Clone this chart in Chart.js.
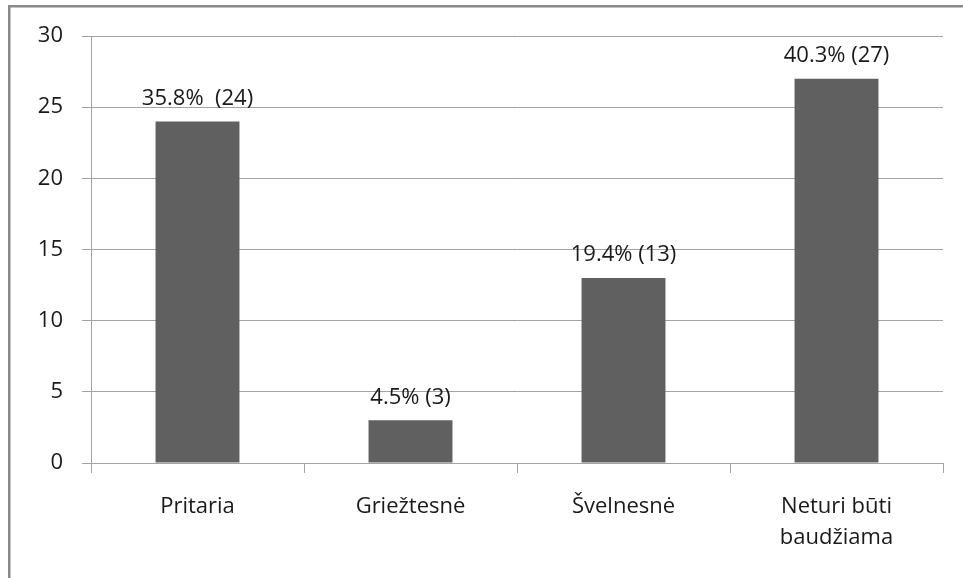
<!DOCTYPE html>
<html>
<head>
<meta charset="utf-8">
<script src="https://cdn.jsdelivr.net/npm/chart.js@4/dist/chart.umd.min.js"></script>
<style>
  html, body { margin: 0; padding: 0; background: #fff; }
  #wrap { width: 963px; height: 578px; position: relative; }
</style>
</head>
<body>
<div id="wrap"><canvas id="c" width="963" height="578"></canvas></div>
<script>
// Answers and how many respondents chose each one
const categories = ['Pritaria', 'Griežtesnė', 'Švelnesnė', ['Neturi būti', 'baudžiama']];
const counts = [24, 3, 13, 27];
const shares = ['35.8', '4.5', '19.4', '40.3'];
const labelGaps = ['  ', ' ', ' ', ' '];
const yTicks = [0, 5, 10, 15, 20, 25, 30];

const FONT = "'Open Sans', 'Noto Sans', sans-serif";
const GRID = '#a3a3a3';
const TEXT = '#1a1a1a';

// Frame along the left and top edges
const framePlugin = {
  id: 'frame',
  beforeDraw(chart) {
    const ctx = chart.ctx;
    ctx.save();
    ctx.fillStyle = '#fff';
    ctx.fillRect(0, 0, chart.width, chart.height);
    ctx.fillStyle = '#8a8a8a';
    ctx.fillRect(8, 5, chart.width - 8, 2.5);
    ctx.fillRect(8, 5, 2.5, chart.height - 5);
    ctx.restore();
  }
};

// Percentage and count written above each bar
const valueLabelPlugin = {
  id: 'valueLabels',
  afterDatasetsDraw(chart) {
    const ctx = chart.ctx;
    const meta = chart.getDatasetMeta(0);
    ctx.save();
    ctx.font = '22px ' + FONT;
    ctx.fillStyle = TEXT;
    ctx.textAlign = 'center';
    ctx.textBaseline = 'middle';
    meta.data.forEach((bar, i) => {
      const text = shares[i] + '%' + labelGaps[i] + '(' + counts[i] + ')';
      ctx.fillText(text, bar.x, bar.y - 23);
    });
    ctx.restore();
  }
};

new Chart(document.getElementById('c'), {
  type: 'bar',
  data: {
    labels: categories,
    datasets: [{
      data: counts,
      backgroundColor: '#606060',
      borderWidth: 0,
      categoryPercentage: 1,
      barPercentage: 0.394
    }]
  },
  options: {
    responsive: false,
    animation: false,
    devicePixelRatio: 1,
    layout: { padding: { left: 0, top: 36, right: 20, bottom: 0 } },
    plugins: {
      legend: { display: false },
      tooltip: { enabled: false }
    },
    scales: {
      x: {
        offset: true,
        grid: {
          offset: true,
          drawOnChartArea: false,
          drawTicks: true,
          tickLength: 10,
          color: GRID,
          lineWidth: 1
        },
        border: { display: true, color: GRID, width: 1 },
        ticks: {
          color: TEXT,
          font: { family: FONT, size: 22, lineHeight: '31px' },
          padding: 18,
          maxRotation: 0,
          autoSkip: false
        },
        afterFit(scale) { scale.height = 115; }
      },
      y: {
        min: 0,
        max: 30,
        afterBuildTicks(scale) { scale.ticks = yTicks.map(v => ({ value: v })); },
        grid: {
          color: GRID,
          lineWidth: 1,
          drawTicks: true,
          tickLength: 9
        },
        border: { display: true, color: GRID, width: 1 },
        ticks: {
          color: TEXT,
          font: { family: FONT, size: 22 },
          padding: 19
        },
        afterFit(scale) { scale.width = 91; }
      }
    }
  },
  plugins: [framePlugin, valueLabelPlugin]
});
</script>
</body>
</html>
